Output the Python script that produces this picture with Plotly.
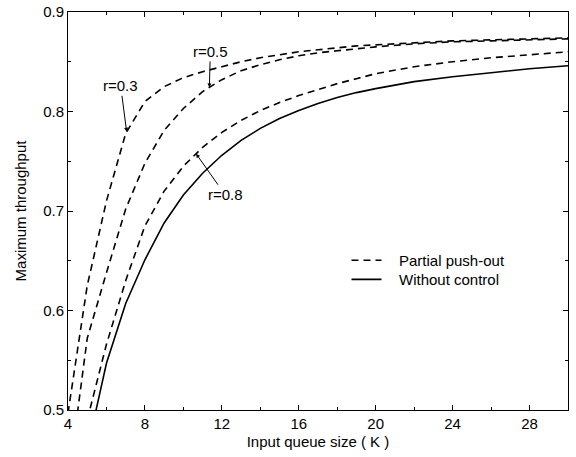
import numpy as np
import plotly.graph_objects as go

K = [4, 5, 6, 7, 8, 9, 10, 11, 12, 13, 14, 15, 16, 17, 18, 19, 20, 22, 24, 26, 28, 30]
r03 = [0.497, 0.625, 0.710, 0.778, 0.810, 0.825, 0.834, 0.840, 0.845, 0.850, 0.854,
       0.857, 0.860, 0.862, 0.864, 0.866, 0.867, 0.869, 0.871, 0.872, 0.873, 0.874]
r05 = [0.425, 0.572, 0.638, 0.702, 0.748, 0.781, 0.803, 0.820, 0.832, 0.841, 0.847,
       0.852, 0.856, 0.859, 0.861, 0.863, 0.865, 0.868, 0.870, 0.871, 0.872, 0.873]
r08 = [None, 0.490, 0.566, 0.630, 0.685, 0.720, 0.745, 0.764, 0.779, 0.791, 0.801,
       0.809, 0.816, 0.822, 0.828, 0.833, 0.838, 0.845, 0.850, 0.854, 0.857, 0.860]
no_control = [None, 0.460, 0.547, 0.607, 0.651, 0.688, 0.716, 0.738, 0.756, 0.771, 0.783,
              0.793, 0.801, 0.808, 0.814, 0.819, 0.823, 0.830, 0.835, 0.839, 0.843, 0.846]

x_ticks = [4, 8, 12, 16, 20, 24, 28]
y_ticks = [0.5, 0.6, 0.7, 0.8, 0.9]

FONT = "Liberation Sans, Arial, Helvetica, sans-serif"
DASH = "7px,5px"

fig = go.Figure()
for i, ys in enumerate([r03, r05, r08]):
    fig.add_trace(go.Scatter(x=K, y=ys, mode="lines", name="   Partial push-out",
                             legendgroup="pp", showlegend=(i == 0), legend="legend",
                             line=dict(color="black", width=1.6, dash=DASH),
                             connectgaps=False, hoverinfo="skip"))
fig.add_trace(go.Scatter(x=K, y=no_control, mode="lines", name="   Without control",
                         legend="legend2",
                         line=dict(color="black", width=1.6), hoverinfo="skip"))

def ann(text, xk, series, ax, ay):
    xs = [k for k, v in zip(K, series) if v is not None]
    vs = [v for v in series if v is not None]
    yv = float(np.interp(xk, xs, vs))
    fig.add_annotation(x=xk, y=yv, text=text, showarrow=True, ax=ax, ay=ay,
                       arrowhead=2, arrowsize=0.8, arrowwidth=1, arrowcolor="black",
                       standoff=0, startstandoff=0,
                       font=dict(family=FONT, size=15, color="black"))

ann("r=0.3", 7.05, r03, -6, -46)
ann("r=0.5", 11.35, r05, 1, -36)
ann("r=0.8", 10.66, r08, 29, 41)

axis_common = dict(showline=True, linecolor="black", linewidth=1, mirror="ticks",
                   ticks="inside", ticklen=5, tickcolor="black", tickwidth=1,
                   showgrid=False, zeroline=False, automargin=False,
                   tickfont=dict(family=FONT, size=15, color="black"))

fig.update_xaxes(range=[4, 30], tickvals=x_ticks, ticktext=[str(v) for v in x_ticks],
                 minor=dict(dtick=2, tick0=4, ticks="inside", ticklen=3, tickcolor="black"),
                 title=dict(text="Input queue size ( K )", standoff=5,
                            font=dict(family=FONT, size=15, color="black")),
                 **axis_common)
fig.update_yaxes(range=[0.5, 0.9], tickvals=y_ticks, ticktext=[f"{v:.1f}" for v in y_ticks],
                 minor=dict(dtick=0.05, tick0=0.5, ticks="inside", ticklen=3, tickcolor="black"),
                 title=dict(text="Maximum throughput", standoff=12,
                            font=dict(family=FONT, size=15, color="black")),
                 **axis_common)

leg_common = dict(xanchor="left", yanchor="top", bgcolor="rgba(0,0,0,0)", borderwidth=0,
                  font=dict(family=FONT, size=15, color="black"))
fig.update_layout(
    width=576, height=457,
    margin=dict(l=68, r=8, t=12, b=47),
    paper_bgcolor="white", plot_bgcolor="white",
    font=dict(family=FONT, size=15, color="black"),
    legend=dict(x=0.557, y=0.417, **leg_common),
    legend2=dict(x=0.557, y=0.369, **leg_common),
)

fig.write_html("out.html")
